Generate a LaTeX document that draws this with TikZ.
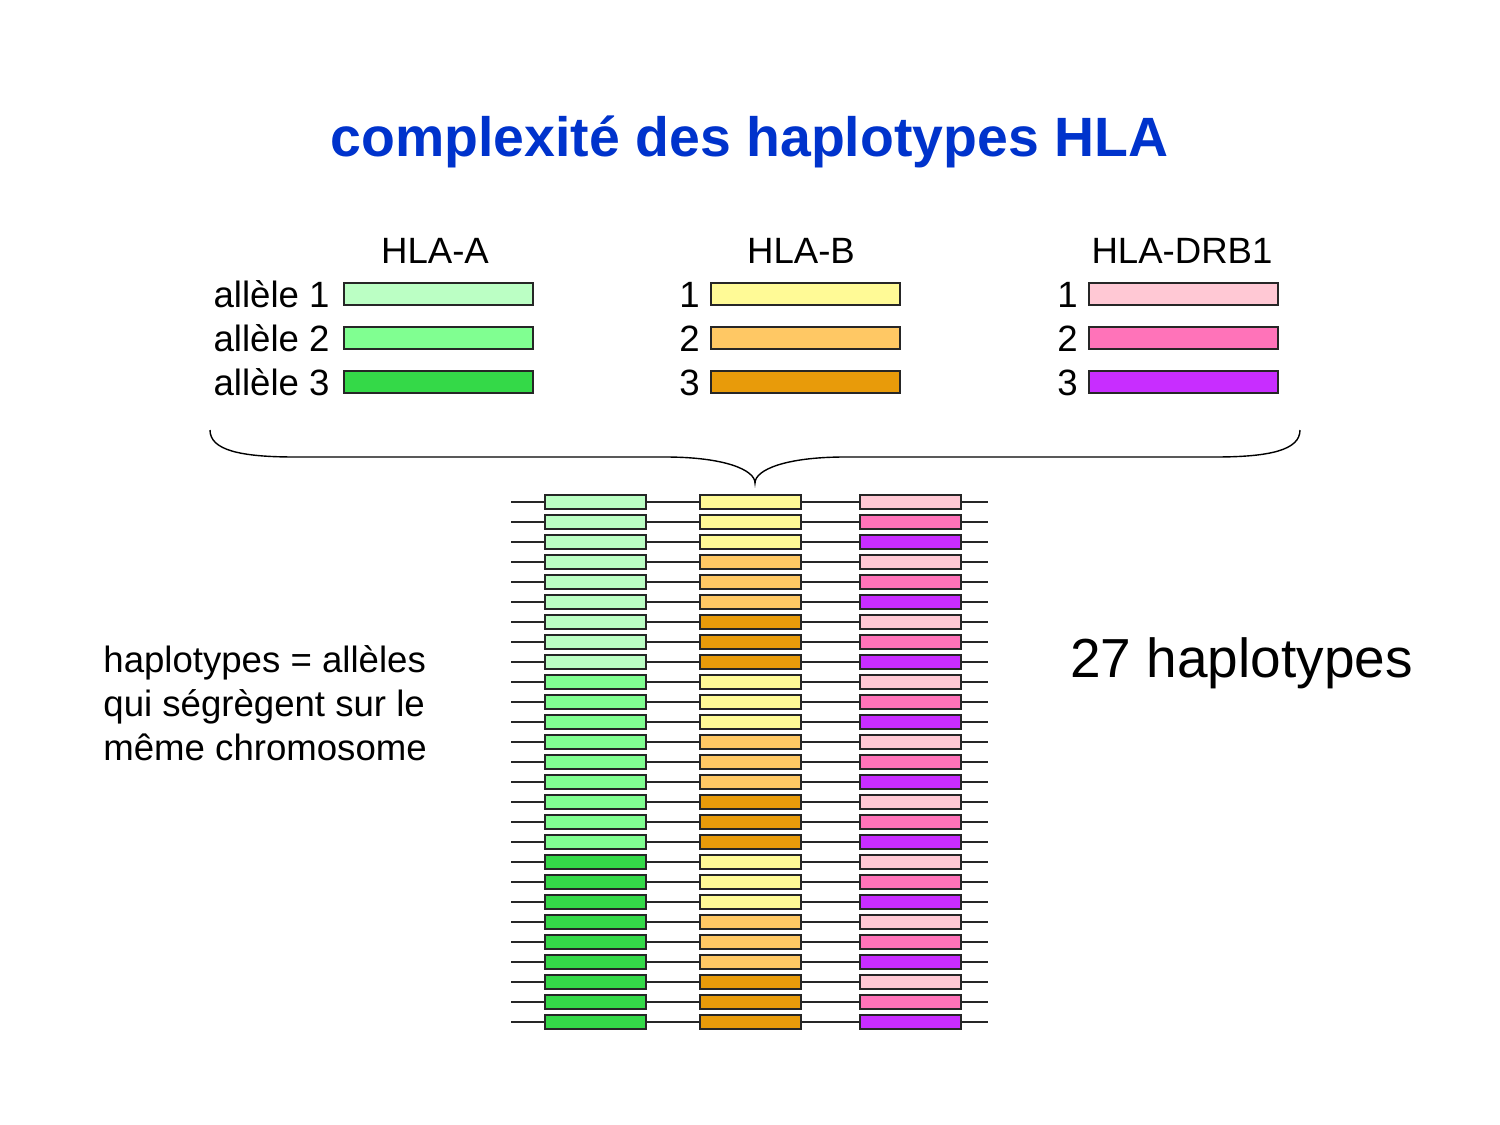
\documentclass[tikz,border=0pt]{standalone}
\usepackage{fontspec}
\setmainfont{Liberation Sans}
\definecolor{titleblue}{RGB}{0,51,204}
\definecolor{A1}{RGB}{187,255,196}
\definecolor{A2}{RGB}{128,255,145}
\definecolor{A3}{RGB}{52,217,72}
\definecolor{B1}{RGB}{255,250,150}
\definecolor{B2}{RGB}{255,200,100}
\definecolor{B3}{RGB}{232,155,10}
\definecolor{D1}{RGB}{255,200,212}
\definecolor{D2}{RGB}{255,115,185}
\definecolor{D3}{RGB}{200,45,255}
\tikzset{
  legbar/.style={draw=black!85, line width=0.7pt, minimum width=94.5pt, minimum height=11pt, inner sep=0pt},
  genebox/.style={draw=black!85, line width=0.8pt, minimum width=50.5pt, minimum height=7pt, inner sep=0pt},
  chromline/.style={draw=black!85, line width=0.7pt},
  lbl/.style={font=\fontsize{18.3pt}{22pt}\selectfont, inner sep=0pt},
}
\begin{document}
\begin{tikzpicture}[x=0.5pt,y=-0.5pt]
\useasboundingbox (0,0) rectangle (1500,1125);
% title
\node[anchor=base, inner sep=0pt, text=titleblue, font=\fontsize{27.7pt}{32pt}\selectfont\bfseries] (title) at (749.5,156) {complexité des haplotypes HLA};
% headers
\node[lbl, anchor=base] (hA) at (435,263) {HLA-A};
\node[lbl, anchor=base] (hB) at (801,263) {HLA-B};
\node[lbl, anchor=base] (hD) at (1182,263) {HLA-DRB1};
% legend
\foreach \k/\y in {1/294,2/338,3/382}{
  \node[legbar, fill=A\k] (la\k) at (438.5,\y) {};
  \node[legbar, fill=B\k] (lb\k) at (805.5,\y) {};
  \node[legbar, fill=D\k] (ld\k) at (1183.5,\y) {};
  \node[lbl, anchor=base east] (ta\k) at (330,\y+13) {allèle \k};
  \node[lbl, anchor=base east] (tb\k) at (700,\y+13) {\k};
  \node[lbl, anchor=base east] (td\k) at (1078,\y+13) {\k};
}
% brace
\draw[line width=0.7pt] (210,430) .. controls (210,450) and (240,457) .. (295,457) -- (665,457)
  .. controls (725,457) and (755,470) .. (755,483)
  .. controls (755,470) and (785,457) .. (845,457) -- (1215,457)
  .. controls (1270,457) and (1300,450) .. (1300,430);
% haplotype rows
\foreach \i in {0,...,26}{
  \pgfmathtruncatemacro\ra{int(\i/9)+1}
  \pgfmathtruncatemacro\rb{mod(int(\i/3),3)+1}
  \pgfmathtruncatemacro\rd{mod(\i,3)+1}
  \pgfmathsetmacro\yy{502+20*\i}
  \coordinate (L\i) at (511,\yy);
  \coordinate (R\i) at (988,\yy);
  \draw[chromline] (L\i) -- (R\i);
  \node[genebox, fill=A\ra] (a\i) at (595.5,\yy) {};
  \node[genebox, fill=B\rb] (b\i) at (750.5,\yy) {};
  \node[genebox, fill=D\rd] (d\i) at (910.5,\yy) {};
}
% side texts
\node[lbl, anchor=base west, align=left] (def) at (103,760) {haplotypes = allèles\\qui ségrègent sur le\\même chromosome};
\node[anchor=base west, inner sep=0pt, font=\fontsize{27.5pt}{32pt}\selectfont] (n27) at (1070,677) {27 haplotypes};
\end{tikzpicture}
\end{document}
